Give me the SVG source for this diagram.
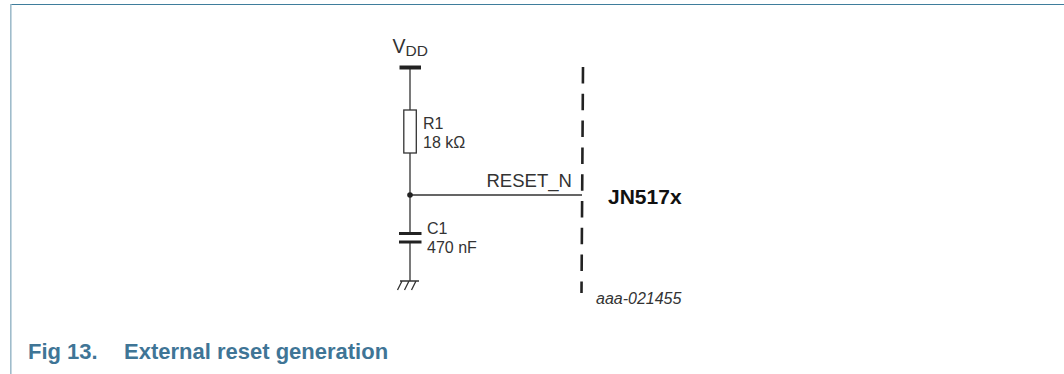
<svg xmlns="http://www.w3.org/2000/svg" width="1064" height="374" viewBox="0 0 1064 374">
<style>
text{font-family:"Liberation Sans",Arial,sans-serif;fill:#333}
.lbl{font-size:16px}
.cap{font-size:22px;font-weight:700;fill:#3f7596}
.w{fill:none;stroke:#333;stroke-width:1.300}
.b{fill:none;stroke:#222}
</style>
<rect width="1064" height="374" fill="#fff"/>
<g id="frame">
<path d="M10 4.500H1064" fill="none" stroke="#3f7d9c" stroke-width="1.200"/>
<path d="M10.800 4V374" fill="none" stroke="#9fbccb" stroke-width="1.600"/>
</g>
<g id="connectors">
<path class="w" d="M410 67V110M410 153V233M410 242V281M410 195H582"/>
<circle cx="410" cy="195" r="2.800" fill="#222"/>
<path class="b" stroke-width="2.600" stroke-dasharray="16.500 10.300" d="M583 67L581.500 293"/>
</g>
<g id="vdd">
<path class="b" stroke-width="4" d="M399.500 67.500H421"/>
<text x="392.500" y="53" font-size="19.500px">V<tspan font-size="15.500px" dy="3">DD</tspan></text>
</g>
<g id="r1">
<rect x="403.800" y="110" width="12.500" height="43" fill="#fff" stroke="#333" stroke-width="1.300"/>
<text class="lbl" x="423" y="128.500">R1</text>
<text class="lbl" x="423" y="148">18 kΩ</text>
</g>
<g id="c1">
<path class="b" stroke-width="3.200" d="M399 233.500H421.500M399 242H421.500"/>
<text class="lbl" x="427" y="234">C1</text>
<text class="lbl" x="427" y="253">470 nF</text>
</g>
<g id="gnd">
<path class="w" d="M400 281H419M402 281L397.500 290M409 281L404.500 290M416 281L411.500 290"/>
</g>
<g id="reset">
<text x="486.500" y="186.500" font-size="18.500px">RESET_N</text>
</g>
<g id="chip">
<text x="608" y="204" font-size="21px" font-weight="700" style="fill:#111">JN517x</text>
<text x="596" y="304" font-size="16px" font-style="italic">aaa-021455</text>
</g>
<g id="caption">
<text class="cap" x="28" y="359">Fig 13.</text>
<text class="cap" x="124" y="359">External reset generation</text>
</g>
</svg>
